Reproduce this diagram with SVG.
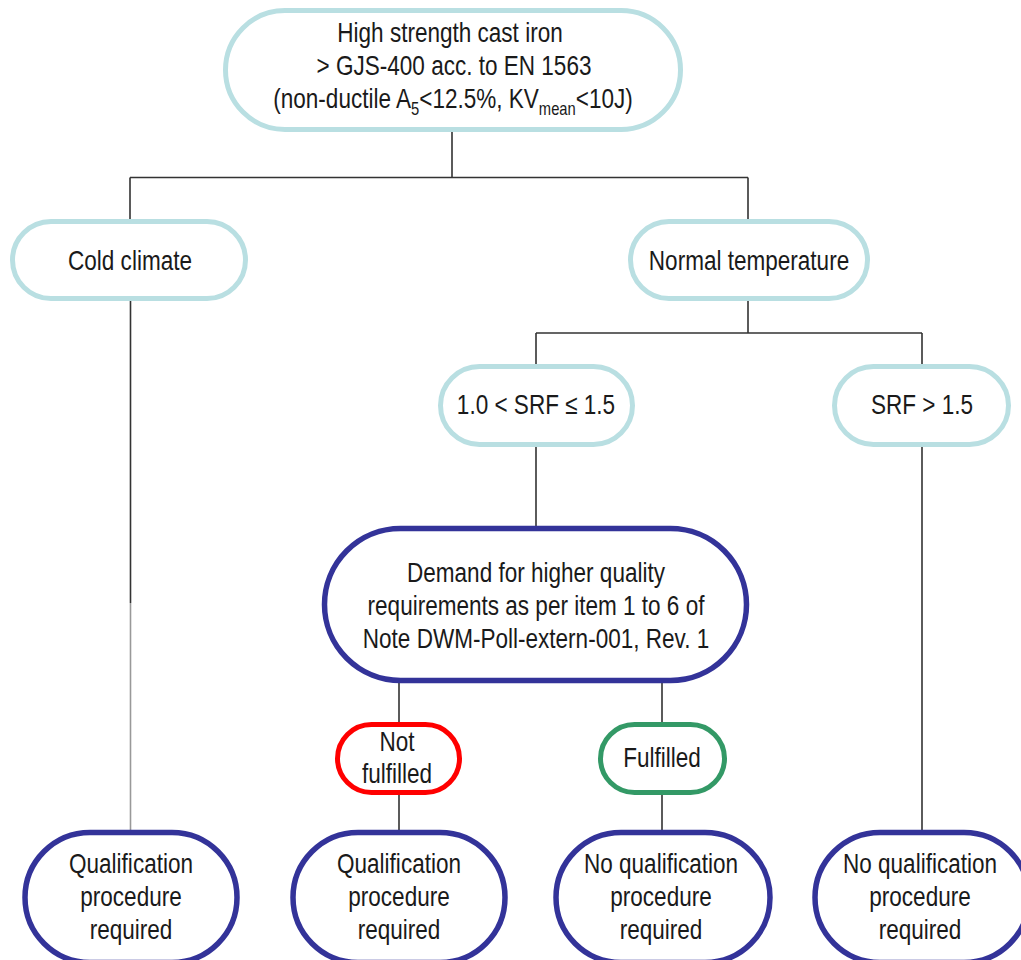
<svg xmlns="http://www.w3.org/2000/svg" width="1021" height="960" viewBox="0 0 1021 960">
<style>
text{font-family:"Liberation Sans",Arial,sans-serif;font-size:27.5px;fill:#1a1a1a;text-anchor:middle}
.lb{fill:#fff;stroke:#b9dfe2;stroke-width:5}
.db{fill:#fff;stroke:#333399;stroke-width:5.5}
.rd{fill:#fff;stroke:#ff0000;stroke-width:5}
.gr{fill:#fff;stroke:#339966;stroke-width:5}
.ln{fill:none;stroke:#333;stroke-width:1.6}
.sub{font-size:18px}
</style>
<rect width="1021" height="960" fill="#fff"/>
<g id="connectors">
<path class="ln" d="M452 130V177.5M130 177.5H748M130 177.5V221M748 177.5V221"/>
<path class="ln" d="M748 299V333M536 333H922M536 333V366M922 333V366"/>
<path class="ln" d="M130.5 299V603"/>
<path d="M130.5 603V832" fill="none" stroke="#999" stroke-width="1.6"/>
<path class="ln" d="M922 445V832"/>
<path class="ln" d="M536 445V528"/>
<path class="ln" d="M399 681V722M662 681V722"/>
<path class="ln" d="M399 794V832M662 794V832"/>
</g>
<g id="top">
<rect class="lb" x="225.5" y="10.5" width="455" height="119" rx="59.5"/>
<text transform="translate(450 0) scale(0.82 1)" x="0" y="42">High strength cast iron</text>
<text transform="translate(454 0) scale(0.82 1)" x="0" y="75">&gt; GJS-400 acc. to EN 1563</text>
<text transform="translate(453 0) scale(0.82 1)" x="0" y="108">(non-ductile A<tspan class="sub" dy="7">5</tspan><tspan dy="-7">&lt;12.5%, KV</tspan><tspan class="sub" dy="7">mean</tspan><tspan dy="-7">&lt;10J)</tspan></text>
</g>
<g id="cold">
<rect class="lb" x="12.5" y="221.5" width="233" height="77" rx="38.5"/>
<text transform="translate(130 0) scale(0.82 1)" x="0" y="270">Cold climate</text>
</g>
<g id="normal">
<rect class="lb" x="630.5" y="221.5" width="237" height="77" rx="38.5"/>
<text transform="translate(749 0) scale(0.82 1)" x="0" y="270">Normal temperature</text>
</g>
<g id="srf1">
<rect class="lb" x="440.5" y="366.5" width="192" height="78" rx="39"/>
<text transform="translate(536 0) scale(0.82 1)" x="0" y="414">1.0 &lt; SRF ≤ 1.5</text>
</g>
<g id="srf2">
<rect class="lb" x="834.5" y="366.5" width="174" height="78" rx="39"/>
<text transform="translate(922 0) scale(0.82 1)" x="0" y="414">SRF &gt; 1.5</text>
</g>
<g id="demand">
<rect class="db" x="324.5" y="528.5" width="422" height="152" rx="76"/>
<text transform="translate(536 0) scale(0.82 1)" x="0" y="582">Demand for higher quality</text>
<text transform="translate(536 0) scale(0.82 1)" x="0" y="615">requirements as per item 1 to 6 of</text>
<text transform="translate(536 0) scale(0.82 1)" x="0" y="648">Note DWM-Poll-extern-001, Rev. 1</text>
</g>
<g id="notfulfilled">
<rect class="rd" x="337.5" y="724.5" width="122" height="68" rx="34"/>
<text transform="translate(397 0) scale(0.82 1)" x="0" y="751">Not</text>
<text transform="translate(397 0) scale(0.82 1)" x="0" y="783">fulfilled</text>
</g>
<g id="fulfilled">
<rect class="gr" x="600.5" y="724.5" width="124" height="68" rx="34"/>
<text transform="translate(662 0) scale(0.82 1)" x="0" y="767">Fulfilled</text>
</g>
<g id="q1">
<rect class="db" x="25" y="832.5" width="212" height="130" rx="65"/>
<text transform="translate(131 0) scale(0.82 1)" x="0" y="873">Qualification</text>
<text transform="translate(131 0) scale(0.82 1)" x="0" y="906">procedure</text>
<text transform="translate(131 0) scale(0.82 1)" x="0" y="939">required</text>
</g>
<g id="q2">
<rect class="db" x="293" y="832.5" width="212" height="130" rx="65"/>
<text transform="translate(399 0) scale(0.82 1)" x="0" y="873">Qualification</text>
<text transform="translate(399 0) scale(0.82 1)" x="0" y="906">procedure</text>
<text transform="translate(399 0) scale(0.82 1)" x="0" y="939">required</text>
</g>
<g id="q3">
<rect class="db" x="556" y="832.5" width="214" height="130" rx="65"/>
<text transform="translate(661 0) scale(0.82 1)" x="0" y="873">No qualification</text>
<text transform="translate(661 0) scale(0.82 1)" x="0" y="906">procedure</text>
<text transform="translate(661 0) scale(0.82 1)" x="0" y="939">required</text>
</g>
<g id="q4">
<rect class="db" x="815" y="832.5" width="214" height="130" rx="65"/>
<text transform="translate(920 0) scale(0.82 1)" x="0" y="873">No qualification</text>
<text transform="translate(920 0) scale(0.82 1)" x="0" y="906">procedure</text>
<text transform="translate(920 0) scale(0.82 1)" x="0" y="939">required</text>
</g>
</svg>
